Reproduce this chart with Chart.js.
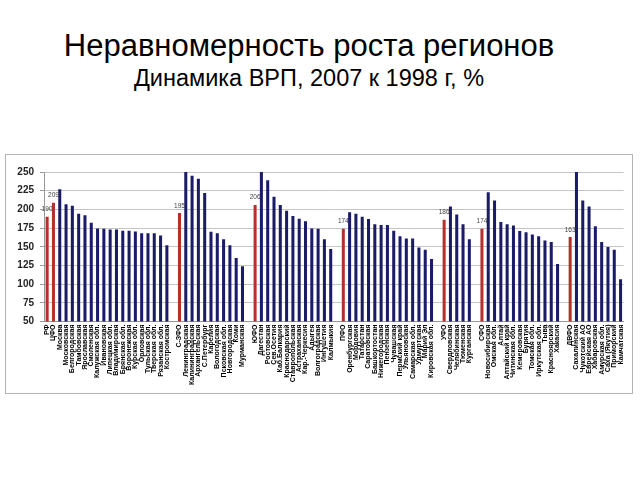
<!DOCTYPE html>
<html><head><meta charset="utf-8">
<script src="https://cdn.jsdelivr.net/npm/chart.js@4.4.1/dist/chart.umd.min.js"></script>
<style>
body{margin:0;width:640px;height:480px;background:#fff;position:relative;overflow:hidden;font-family:"Liberation Sans",Arial,sans-serif;}
#t1{position:absolute;left:0;width:618px;top:30px;text-align:center;font-size:31px;line-height:32px;color:#000;white-space:nowrap;}
#t2{position:absolute;left:0;width:618px;top:67px;text-align:center;font-size:23.5px;line-height:23px;color:#000;white-space:nowrap;}
#box{position:absolute;left:5px;top:154px;width:628px;height:240px;box-sizing:border-box;border:1px solid #b4b4b4;}
#c{position:absolute;left:0;top:0;}
</style></head>
<body>
<div id="t1">Неравномерность роста регионов</div>
<div id="t2">Динамика ВРП, 2007 к 1998 г, %</div>
<div id="box"><canvas id="c" width="626" height="238"></canvas></div>
<script>
// Federal districts: first item of each group is the district total (red bar)
const cfoLabels = ["РФ","ЦФО","Москва","Московская","Белгородская","Тамбовская","Ярославская","Смоленская","Калужская обл.","Ивановская","Липецкая обл.","Владимирская","Брянская обл.","Воронежская","Курская обл.","Орловская","Тульская обл.","Тверская обл.","Рязанская обл.","Костромская"];
const cfoValues = [190,209,227,207,205,194,192,182,174.5,174,173,173,171.5,171.5,170.5,168,168,168,165,152];

const szfoLabels = ["С-ЗФО","Ленинградская","Калининградская","Архангельская","С.Петербург","Карелия","Вологодская","Псковская обл.","Новгородская","Коми","Мурманская"];
const szfoValues = [195,256,245,241,222,170,168,160,152,135,124];

const yufoLabels = ["ЮФО","Дагестан","Ростовская","Сев.Осетия","Каб.Балкария","Краснодарский","Ставропольская","Астраханская","Кар.-Черкесия","Адыгея","Волгоградская","Ингушетия","Калмыкия"];
const yufoValues = [206,258,239,217,206,198,191,187.5,184,174.5,174,160,147];

const pfoLabels = ["ПФО","Оренбургская","Мордовия","Татарстан","Саратовская","Башкортостан","Нижегородская","Пензенская","Чувашская","Пермский край","Ульяновская","Самарская обл.","Удмуртская","Марий Эл","Кировская обл."];
const pfoValues = [174,196,194,190,187,180,179,179,171.5,164,161,161,149,146,133.5];

const ufoLabels = ["УФО","Свердловская","Челябинская","Тюменская","Курганская"];
const ufoValues = [186,204,193,180,160];

const sfoLabels = ["СФО","Новосибирская","Омская обл.","Алтай","Алтайский край","Читинская обл.","Кемеровская","Бурятия","Томская обл.","Иркутская обл.","Тыва","Красноярский","Хакасия"];
const sfoValues = [174,223,212,183,180,178.5,171,169.5,166.5,164,158.5,156.5,127];

const dvfoLabels = ["ДВФО","Сахалинская","Чукотский АО","Еврейская АО","Хабаровская","Амурская обл.","Саха (Якутия)","Приморский","Камчатская"];
const dvfoValues = [163,255,212,204,177.5,156.5,149.5,146,106.5];

const totals = ["РФ","ЦФО","С-ЗФО","ЮФО","ПФО","УФО","СФО","ДВФО"];
const yTicks = [50,75,100,125,150,175,200,225,250];

const groups = [[cfoLabels,cfoValues],[szfoLabels,szfoValues],[yufoLabels,yufoValues],[pfoLabels,pfoValues],[ufoLabels,ufoValues],[sfoLabels,sfoValues],[dvfoLabels,dvfoValues]];
const labels = [], values = [];
groups.forEach((g,gi)=>{
  if(gi>0){labels.push("");values.push(null);}
  g[0].forEach((l,i)=>{labels.push(l);values.push(g[1][i]);});
});
const isTotal = labels.map(l=>totals.includes(l));
const colors = isTotal.map(t=>t?"#B3302C":"#1B1B68");

const valueLabels = {
  id:'valueLabels',
  afterDatasetsDraw(chart){
    const ctx=chart.ctx, meta=chart.getDatasetMeta(0);
    ctx.save();
    ctx.font='6.5px "Liberation Sans", Arial, sans-serif';
    ctx.fillStyle='#444';
    ctx.textAlign='center';
    ctx.textBaseline='bottom';
    meta.data.forEach((bar,i)=>{
      if(isTotal[i] && values[i]!=null) ctx.fillText(String(Math.round(values[i])), bar.x, bar.y-4);
    });
    ctx.restore();
  }
};

new Chart(document.getElementById('c'),{
  type:'bar',
  data:{labels:labels,datasets:[{data:values,backgroundColor:colors,borderWidth:0,clip:0,categoryPercentage:0.8,barPercentage:0.6}]},
  options:{
    responsive:false,animation:false,
    layout:{padding:{top:17,left:0,right:6,bottom:0}},
    plugins:{legend:{display:false},tooltip:{enabled:false},title:{display:false}},
    scales:{
      x:{
        grid:{display:false,drawTicks:false},
        border:{display:true,color:'#999'},
        ticks:{autoSkip:false,minRotation:90,maxRotation:90,padding:3,color:'#000',font:{family:'"Liberation Sans", Arial, sans-serif',size:7,weight:'bold'}},
        afterFit(s){s.height=71.5;}
      },
      y:{
        min:50,max:250,
        afterBuildTicks(s){s.ticks=yTicks.map(v=>({value:v}));},
        grid:{color:'#c4c4c4',tickLength:4,tickColor:'#999'},
        border:{display:true,color:'#999'},
        ticks:{padding:6,color:'#222',font:{family:'"Liberation Sans", Arial, sans-serif',size:10,weight:'bold'}},
        afterFit(s){s.width=38;}
      }
    }
  },
  plugins:[valueLabels]
});
</script>
</body></html>
